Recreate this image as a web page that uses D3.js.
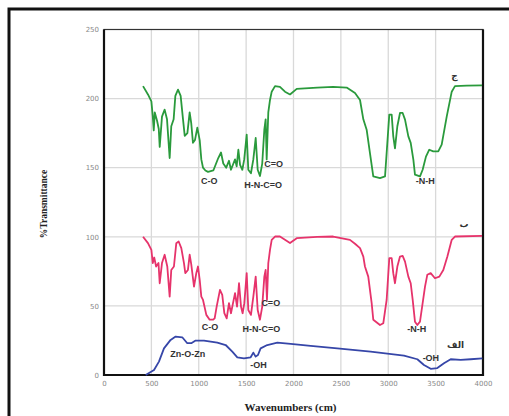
<!DOCTYPE html>
<html>
<head>
<meta charset="utf-8">
<script src="https://cdn.jsdelivr.net/npm/d3@7/dist/d3.min.js"></script>
<style>
  html, body { margin: 0; padding: 0; background: #fff; }
  svg { display: block; }
</style>
</head>
<body>
<svg id="chart" width="509" height="416"></svg>
<script>
// ---------- data ----------
const xTicks = [0, 500, 1000, 1500, 2000, 2500, 3000, 3500, 4000];
const yTicks = [0, 50, 100, 150, 200, 250];
const xTitle = "Wavenumbers (cm)";
const yTitle = "%Transmittance";

// spectrum ج (green) : [wavenumber, %T]
const seriesGreen = [[412,209],[464,203],[500,198],[515,187],[525,177],[536,190],[560,184],[578,178],[588,165],[612,187],[640,192],[665,185],[693,157],[710,180],[735,185],[753,202],[781,206.5],[809,202],[834,185],[852,173],[880,175],[904,190],[921,182],[939,168],[960,170],[985,179],[1010,170],[1027,156],[1045,150],[1070,148],[1098,147],[1154,148],[1206,157],[1235,161],[1259,153],[1290,150],[1319,155],[1340,148.5],[1383,156],[1400,151],[1418,163],[1436,152],[1460,148.5],[1480,156],[1506,174],[1523,148.5],[1551,146],[1576,156],[1601,171.5],[1622,148.5],[1646,144],[1670,153],[1692,177.5],[1706,185],[1717,156],[1734,190],[1752,199],[1770,205],[1805,209],[1857,208.5],[1910,205],[1963,203],[2034,207],[2250,208],[2418,208.5],[2561,208],[2649,204],[2702,199],[2737,185],[2772,177.5],[2807,160.6],[2842,143.7],[2913,142.5],[2966,143.7],[2983,160.6],[3011,188.4],[3036,188.4],[3053,172.7],[3071,164],[3096,180],[3124,189.6],[3152,189.6],[3177,184.8],[3212,172.7],[3237,168],[3265,155.8],[3282,145],[3335,143.7],[3363,148.5],[3398,158],[3433,163],[3475,161.8],[3528,161.8],[3564,166.7],[3617,187],[3670,205],[3704,209],[3828,209.4],[3990,209.6]];

// spectrum ب (red)
const seriesRed = [[412,100],[464,95.4],[500,90.6],[515,81],[530,85],[550,78.5],[575,81],[588,66.4],[612,81],[640,87],[668,78.5],[693,56.7],[710,76],[738,78.5],[763,95.4],[788,96.6],[816,91.8],[844,81],[858,73.7],[886,76],[904,87],[921,80],[950,64],[974,73.7],[992,78.5],[1010,68.8],[1027,56.7],[1045,54.3],[1080,43.5],[1115,40],[1150,40],[1168,41],[1189,49.5],[1224,61.6],[1248,58],[1270,44.7],[1295,41],[1319,52],[1340,44.7],[1383,59.2],[1404,49.5],[1425,66.4],[1446,49.5],[1463,44.7],[1481,52],[1506,73.7],[1523,47],[1551,43.5],[1576,56.7],[1601,71.2],[1622,47],[1646,40],[1670,49.5],[1692,71.2],[1706,76],[1720,54.3],[1734,81],[1752,90.6],[1770,97.8],[1805,100.2],[1857,100.2],[1910,97.8],[1963,95.5],[2034,99],[2250,100],[2418,100.2],[2596,97.8],[2649,95],[2702,91.8],[2737,85.7],[2754,78.5],[2789,71.2],[2825,52],[2842,40],[2913,36.2],[2948,37.5],[2983,54.3],[3011,84.5],[3036,84.5],[3053,73.7],[3071,66.4],[3096,78.5],[3124,85.7],[3152,86.2],[3177,82],[3212,71.2],[3237,66.4],[3258,54.3],[3282,38.6],[3307,36.2],[3335,38.6],[3363,52],[3388,64],[3412,72.5],[3448,73.7],[3493,70],[3539,71.2],[3581,76],[3624,85.7],[3670,97.8],[3704,100.2],[3990,100.7]];

// spectrum الف (blue)
const seriesBlue = [[440,0],[528,3.6],[580,9.7],[633,19.3],[703,25.4],[756,27.8],[826,27.3],[879,23],[921,23],[967,24.9],[1055,24.9],[1196,23.4],[1284,21.7],[1354,16.9],[1407,12.8],[1477,12],[1548,12.8],[1576,16.2],[1600,13.3],[1625,14.5],[1653,19.3],[1723,21.7],[1829,23.4],[1970,22.5],[2181,21],[2462,19.3],[2814,16.9],[3166,14],[3307,11.4],[3377,7.2],[3448,4.5],[3518,5],[3588,8.5],[3659,11.4],[3765,10.9],[3870,11.4],[3993,12]];

// band annotations: [text, wavenumber, %T]
const annotations = [
  ["C-O", 1110, 140], ["C=O", 1790, 152], ["H-N-C=O", 1680, 137], ["-N-H", 3390, 140],
  ["C-O", 1120, 34], ["C=O", 1760, 52], ["H-N-C=O", 1660, 33], ["-N-H", 3300, 33],
  ["Zn-O-Zn", 885, 14.5], ["-OH", 1630, 6.5], ["-OH", 3450, 11.5]
];
const seriesLabels = [["ج", 3700, 216], ["ب", 3800, 109], ["الف", 3710, 21.5]];

// ---------- drawing ----------
const svg = d3.select("#chart");
const x = d3.scaleLinear().domain([0, 4000]).range([104, 483]);
const y = d3.scaleLinear().domain([0, 250]).range([375, 29.5]);

// outer frame
svg.append("path").attr("d", "M9,416 V9 H509").attr("fill", "none")
  .attr("stroke", "#111").attr("stroke-width", 3);

// grid
svg.append("g").selectAll("line").data(xTicks.slice(1, -1)).join("line")
  .attr("x1", d => x(d)).attr("x2", d => x(d)).attr("y1", y(0)).attr("y2", y(250))
  .attr("stroke", "#d9d9d9").attr("stroke-width", 1.3);
svg.append("g").selectAll("line").data(yTicks.slice(1, -1)).join("line")
  .attr("x1", x(0)).attr("x2", x(4000)).attr("y1", d => y(d)).attr("y2", d => y(d))
  .attr("stroke", "#d9d9d9").attr("stroke-width", 1.3);

// axes (tick labels)
const xAxis = d3.axisBottom(x).tickValues(xTicks).tickFormat(d3.format("d")).tickSize(0).tickPadding(6);
const yAxis = d3.axisLeft(y).tickValues(yTicks).tickFormat(d3.format("d")).tickSize(0).tickPadding(5);
const gx = svg.append("g").attr("transform", `translate(0,${y(0)})`).call(xAxis);
const gy = svg.append("g").attr("transform", `translate(${x(0)},0)`).call(yAxis);
[gx, gy].forEach(g => {
  g.select(".domain").remove();
  g.selectAll("text").attr("fill", "#888").style("font-family", "DejaVu Sans")
    .style("font-size", "7px");
});

// plot border
svg.append("rect").attr("x", x(0)).attr("y", y(250)).attr("width", x(4000) - x(0))
  .attr("height", y(0) - y(250)).attr("fill", "none").attr("stroke", "#333").attr("stroke-width", 1.2);
svg.append("path").attr("d", `M${x(0)},${y(250)} V${y(0)} H${x(4000)} V${y(250)}`)
  .attr("fill", "none").attr("stroke", "#111").attr("stroke-width", 2.2);

// lines
const line = d3.line().x(d => x(d[0])).y(d => y(d[1]));
const drawSeries = (data, color) => svg.append("path").datum(data).attr("d", line)
  .attr("fill", "none").attr("stroke", color).attr("stroke-width", 1.8)
  .attr("stroke-linejoin", "round");
drawSeries(seriesGreen, "#2a9a3c");
drawSeries(seriesRed, "#e6336b");
drawSeries(seriesBlue, "#3646a8");

// annotations
svg.append("g").selectAll("text").data(annotations).join("text")
  .attr("x", d => x(d[1])).attr("y", d => y(d[2])).attr("text-anchor", "middle")
  .attr("dominant-baseline", "middle")
  .style("font-family", "Liberation Sans, Arial").style("font-size", "9px")
  .style("font-weight", "bold").attr("fill", "#333").text(d => d[0]);
svg.append("g").selectAll("text").data(seriesLabels).join("text")
  .attr("x", d => x(d[1])).attr("y", d => y(d[2])).attr("text-anchor", "middle")
  .attr("dominant-baseline", "middle")
  .style("font-family", "DejaVu Sans").style("font-size", "9px")
  .style("font-weight", "bold").attr("fill", "#333").text(d => d[0]);

// axis titles
svg.append("text").attr("x", (x(0) + x(4000)) / 2 - 3).attr("y", 408)
  .attr("text-anchor", "middle").attr("dominant-baseline", "middle")
  .style("font-family", "Liberation Serif").style("font-weight", "bold")
  .style("font-size", "11px").attr("fill", "#222").text(xTitle);
svg.append("text").attr("transform", "translate(45,204) rotate(-90)")
  .attr("text-anchor", "middle").attr("dominant-baseline", "middle")
  .style("font-family", "Liberation Serif").style("font-weight", "bold")
  .style("font-size", "9.5px").attr("fill", "#222").text(yTitle);
</script>
</body>
</html>
